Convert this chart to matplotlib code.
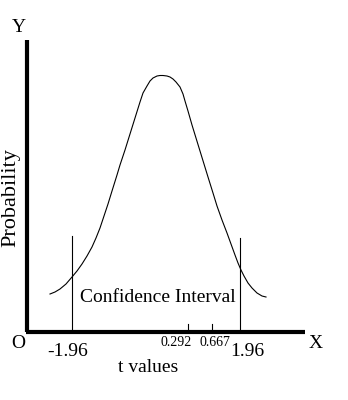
import matplotlib
matplotlib.use("Agg")
import matplotlib.pyplot as plt

# Schematic bell curve (pixel-like units, y downwards)
curve_x = [50, 55, 60, 66, 72, 77, 82, 87, 92, 96, 100, 104, 108, 112, 117, 120, 125, 130, 135, 140,
           143, 147, 150, 153, 157, 160, 163, 167, 170, 173, 176, 180, 183, 185, 188, 192, 196, 200,
           204, 208, 213, 217, 222, 227, 231, 235, 238, 241, 244, 248, 252, 257, 262, 266]
curve_y = [294, 292, 289, 284, 277, 271, 264, 256, 247, 238, 228, 216, 204, 191, 175, 165, 150, 134, 118, 102,
           93, 86, 81, 78, 76, 75.5, 75.5, 76, 77, 79, 82, 87, 94, 101, 111, 125, 138, 151,
           164, 177, 193, 206, 220, 233, 244, 255, 263, 270, 276, 283, 288, 293, 296, 297]

# Critical values and their positions on the schematic axis
crit_labels = ["-1.96", "1.96"]
crit_pos = [72, 240]
crit_top = [236, 238]

# Observed t values (small ticks)
obs_labels = ["0.292", "0.667"]
obs_pos = [188, 212]

FONT = "Liberation Serif"

fig = plt.figure(figsize=(3.48, 4.0), dpi=100)
ax = fig.add_axes([0, 0, 1, 1])
ax.set_xlim(0, 348)
ax.set_ylim(400, 0)
ax.axis("off")

# axes
ax.plot([27, 27], [40, 332], color="black", lw=3.0, solid_capstyle="butt")
ax.plot([25.5, 305], [332, 332], color="black", lw=3.0, solid_capstyle="butt")

# curve
ax.plot(curve_x, curve_y, color="black", lw=0.8, solid_joinstyle="round")

# critical lines
for p, t in zip(crit_pos, crit_top):
    ax.plot([p, p], [t, 331], color="black", lw=0.8)

# small ticks
for p in obs_pos:
    ax.plot([p, p], [324, 331], color="black", lw=0.8)

tk = dict(family=FONT, color="black")
ax.text(19, 27, "Y", fontsize=14, ha="center", va="center", **tk)
ax.text(18, 343, "O", fontsize=14, ha="center", va="center", **tk)
ax.text(316, 343, "X", fontsize=14, ha="center", va="center", **tk)
ax.text(68, 352, crit_labels[0], fontsize=14, ha="center", va="center", **tk)
ax.text(247, 352, crit_labels[1], fontsize=14, ha="center", va="center", **tk)
ax.text(176, 343, obs_labels[0], fontsize=10, ha="center", va="center", **tk)
ax.text(215, 343, obs_labels[1], fontsize=10, ha="center", va="center", **tk)
ax.text(148, 368, "t values", fontsize=14, ha="center", va="center", **tk)
ax.text(11, 198, "Probability", fontsize=16, ha="center", va="center", rotation=90, **tk)
ax.text(158, 298, "Confidence Interval", fontsize=14, ha="center", va="center", **tk)

fig.savefig("out.png", dpi=100)
